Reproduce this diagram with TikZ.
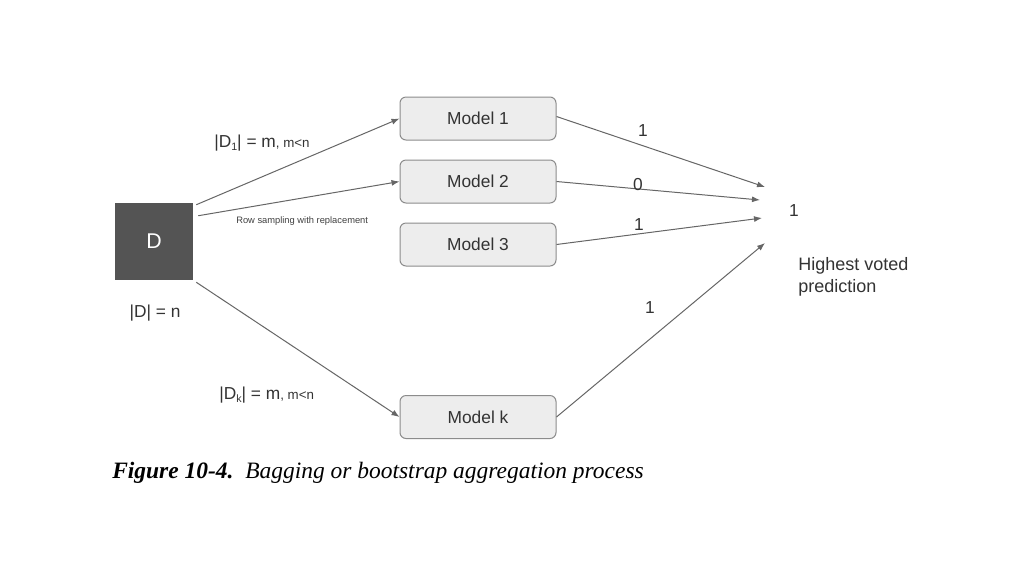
\documentclass[tikz,border=0pt]{standalone}
\usepackage{fontspec}
\setmainfont{Liberation Sans}
\newfontfamily\capfont{Liberation Serif}
\usetikzlibrary{arrows.meta}
\newcommand{\sbs}[1]{\raisebox{-2.5pt}{\fontsize{8}{9}\selectfont #1}}
\begin{document}
\begin{tikzpicture}[x=0.75pt,y=-0.75pt,
  model/.style={draw=black!45, fill=black!7, rounded corners=4.5pt, minimum width=117pt, minimum height=32.25pt, line width=0.75pt, font=\fontsize{13}{15}\selectfont, text=black!80, inner sep=0pt},
  dbox/.style={fill=black!67, minimum width=58.5pt, minimum height=57.75pt, inner sep=0pt, text=white, font=\fontsize{16}{18}\selectfont},
  link/.style={draw=black!60, line width=0.75pt, -{Latex[length=6pt,width=4.5pt]}},
  lbl/.style={font=\fontsize{13}{16.5}\selectfont, text=black!80, inner sep=0pt},
  small/.style={font=\fontsize{7}{8}\selectfont, text=black!75, inner sep=0pt}]
\fill[white] (0,0) rectangle (1024,576);
\useasboundingbox (0,0) rectangle (1024,576);

\node[dbox] (D) at (154,241.5) {D};
\node[model] (m1) at (478,118.5) {Model 1};
\node[model] (m2) at (478,181.5) {Model 2};
\node[model] (m3) at (478,244.5) {Model 3};
\node[model] (mk) at (478,417) {Model k};

\coordinate (t1) at (765,187);
\coordinate (t2) at (760,200);
\coordinate (t3) at (762,218);
\coordinate (tk) at (765,243);

\draw[link] ([shift={(3,2)}]D.north east) -- (m1.west);
\draw[link] ([shift={(5,13)}]D.north east) -- (m2.west);
\draw[link] ([shift={(3,2)}]D.south east) -- (mk.west);

\draw[link] ([yshift=1.5]m1.east) -- (t1);
\draw[link] (m2.east) -- (t2);
\draw[link] (m3.east) -- (t3);
\draw[link] (mk.east) -- (tk);

\node[lbl] (r) at (794,211) {1};
\node[lbl, align=left, anchor=west, font=\fontsize{13.5}{16.5}\selectfont] (hv) at (798,277) {Highest voted\\prediction};

\node[lbl] (v1) at (643,131) {1};
\node[lbl] (v2) at (638,185) {0};
\node[lbl] (v3) at (639,225) {1};
\node[lbl] (vk) at (650,308) {1};

\node[lbl] (n) at (155,313) {|D| = n};
\node[lbl, anchor=west] (d1) at (214,143) {|D\sbs{1}| = m{\fontsize{10}{11}\selectfont, m<n}};
\node[small, anchor=west] (rs) at (236,221) {Row sampling with replacement};
\node[lbl, anchor=west] (dk) at (219,395) {|D\sbs{k}| = m{\fontsize{10}{11}\selectfont, m<n}};

\node[anchor=west, inner sep=0pt] (cap) at (112,473) {\capfont\fontsize{17.6}{21}\selectfont\bfseries\itshape Figure 10-4.\ \ \mdseries Bagging or bootstrap aggregation process};
\end{tikzpicture}
\end{document}
